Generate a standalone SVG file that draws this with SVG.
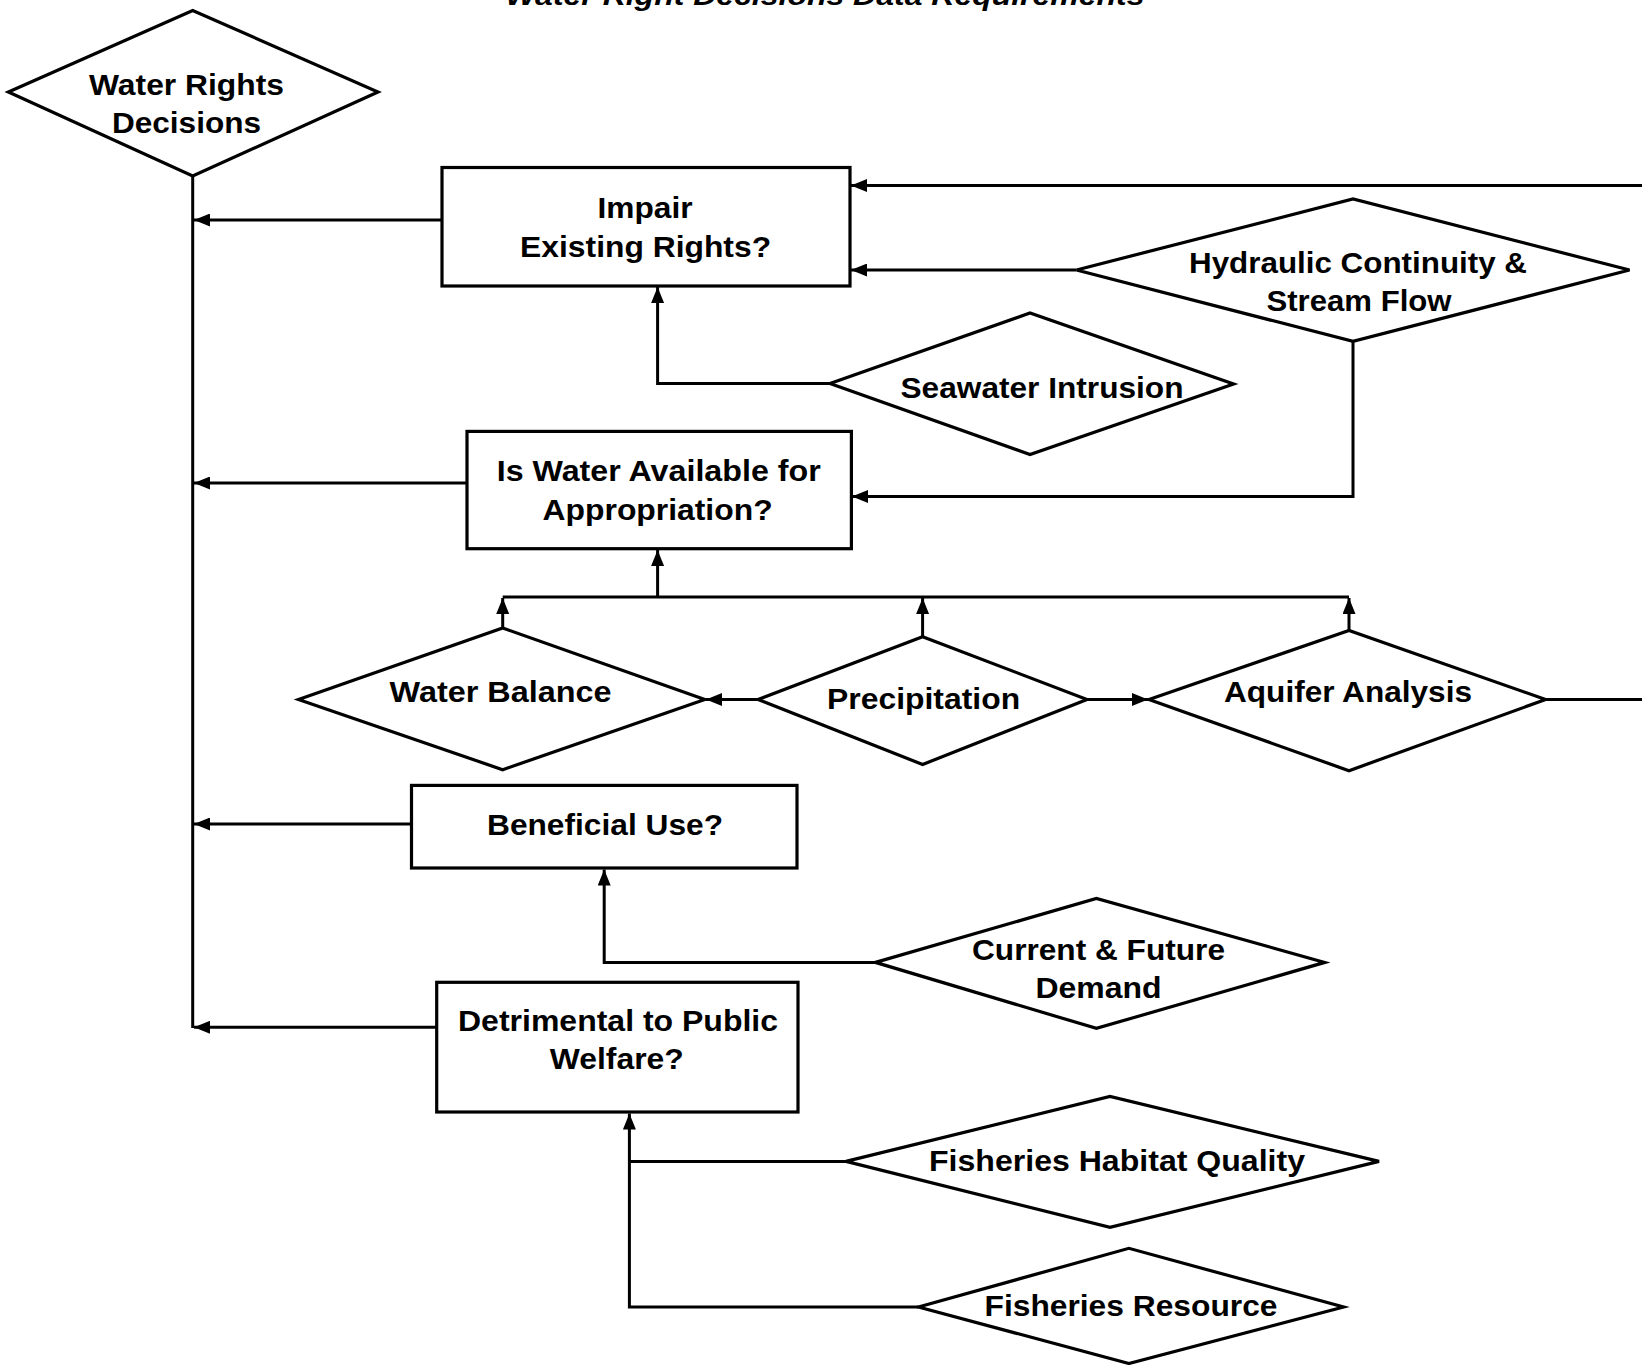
<svg xmlns="http://www.w3.org/2000/svg" width="1642" height="1365" viewBox="0 0 1642 1365">
  <defs>
    <marker id="arrow" markerUnits="userSpaceOnUse" markerWidth="17" markerHeight="13" refX="16" refY="6.5" orient="auto">
      <path d="M0,0 L16,6.5 L0,13 z" fill="#000"/>
    </marker>
    <style>
      .shape { fill: #fff; stroke: #000; stroke-width: 3.2; stroke-linejoin: miter; }
      .link { fill: none; stroke: #000; stroke-width: 3; }
      .arr { marker-end: url(#arrow); }
      .label { font-family: "Liberation Sans", Arial, sans-serif; font-weight: bold; font-size: 29.5px; fill: #000; text-anchor: middle; }
      .title { font-family: "Liberation Sans", Arial, sans-serif; font-weight: bold; font-style: italic; font-size: 28px; fill: #000; text-anchor: middle; }
    </style>
  </defs>

  <rect width="1642" height="1365" fill="#fff"/>

  <text class="title" x="825" y="5" textLength="639" lengthAdjust="spacingAndGlyphs">Water Right Decisions Data Requirements</text>

  <!-- connectors -->
  <g id="connectors">
    <path class="link" d="M192.7,176 V1028"/>
    <path class="link arr" d="M442,220 H194"/>
    <path class="link arr" d="M1642,185.5 H851"/>
    <path class="link arr" d="M1076,270 H851"/>
    <path class="link arr" d="M830,383.5 H657.6 V287"/>
    <path class="link arr" d="M1353,341.5 V496.5 H852"/>
    <path class="link arr" d="M467,483 H194"/>
    <path class="link arr" d="M657.6,597 V550"/>
    <path class="link" d="M502.7,597 H1349"/>
    <path class="link arr" d="M502.7,628 V598"/>
    <path class="link arr" d="M922.6,636.7 V598"/>
    <path class="link arr" d="M1349,630.4 V598"/>
    <path class="link arr" d="M758,699.5 H706"/>
    <path class="link arr" d="M1087,699.5 H1148"/>
    <path class="link" d="M1545.6,699.5 H1642"/>
    <path class="link arr" d="M411.5,824 H194"/>
    <path class="link arr" d="M875.5,962.4 H604.2 V869.5"/>
    <path class="link arr" d="M436.7,1027.3 H194"/>
    <path class="link" d="M846,1161.4 H629.4"/>
    <path class="link arr" d="M918.4,1307 H629.4 V1113.5"/>
  </g>

  <!-- decision root -->
  <g id="water-rights-decisions">
    <polygon class="shape" points="8.4,92 192.7,10.5 378,92 192.7,176"/>
    <text class="label" x="186.5" y="94.5" textLength="195" lengthAdjust="spacingAndGlyphs">Water Rights</text>
    <text class="label" x="186.5" y="133" textLength="149" lengthAdjust="spacingAndGlyphs">Decisions</text>
  </g>

  <!-- questions -->
  <g id="impair-existing-rights">
    <rect class="shape" x="442" y="167.5" width="408" height="118.5"/>
    <text class="label" x="645" y="217.5" textLength="95" lengthAdjust="spacingAndGlyphs">Impair</text>
    <text class="label" x="645.6" y="256.5" textLength="251" lengthAdjust="spacingAndGlyphs">Existing Rights?</text>
  </g>

  <g id="water-available">
    <rect class="shape" x="467" y="431.4" width="384.4" height="117.3"/>
    <text class="label" x="658.7" y="481" textLength="324" lengthAdjust="spacingAndGlyphs">Is Water Available for</text>
    <text class="label" x="657.6" y="519.5" textLength="230" lengthAdjust="spacingAndGlyphs">Appropriation?</text>
  </g>

  <g id="beneficial-use">
    <rect class="shape" x="411.5" y="785.4" width="385.5" height="82.6"/>
    <text class="label" x="605" y="834.5" textLength="236" lengthAdjust="spacingAndGlyphs">Beneficial Use?</text>
  </g>

  <g id="public-welfare">
    <rect class="shape" x="436.7" y="982.3" width="361.3" height="129.7"/>
    <text class="label" x="618" y="1031" textLength="320" lengthAdjust="spacingAndGlyphs">Detrimental to Public</text>
    <text class="label" x="616.8" y="1069" textLength="134" lengthAdjust="spacingAndGlyphs">Welfare?</text>
  </g>

  <!-- data requirements -->
  <g id="hydraulic-continuity">
    <polygon class="shape" points="1076.5,270 1353,199 1629.5,270 1353,341.4"/>
    <text class="label" x="1358" y="272.5" textLength="338" lengthAdjust="spacingAndGlyphs">Hydraulic Continuity &amp;</text>
    <text class="label" x="1359" y="311" textLength="185" lengthAdjust="spacingAndGlyphs">Stream Flow</text>
  </g>

  <g id="seawater-intrusion">
    <polygon class="shape" points="830,383.5 1030,313 1233.6,384 1030,454.5"/>
    <text class="label" x="1042" y="398" textLength="283" lengthAdjust="spacingAndGlyphs">Seawater Intrusion</text>
  </g>

  <g id="water-balance">
    <polygon class="shape" points="298.5,699.5 502.7,628 704.8,699.5 502.7,769.7"/>
    <text class="label" x="500.6" y="701.5" textLength="222" lengthAdjust="spacingAndGlyphs">Water Balance</text>
  </g>

  <g id="precipitation">
    <polygon class="shape" points="758,699.5 922.6,636.7 1087,699.5 922.6,764.5"/>
    <text class="label" x="923.6" y="708.5" textLength="193" lengthAdjust="spacingAndGlyphs">Precipitation</text>
  </g>

  <g id="aquifer-analysis">
    <polygon class="shape" points="1149,699.5 1349,630.4 1545.6,699.5 1349,770.7"/>
    <text class="label" x="1348" y="702" textLength="248" lengthAdjust="spacingAndGlyphs">Aquifer Analysis</text>
  </g>

  <g id="current-future-demand">
    <polygon class="shape" points="875.5,962.4 1096.4,898.5 1324.7,962.4 1096.4,1028.4"/>
    <text class="label" x="1098.5" y="959.5" textLength="253" lengthAdjust="spacingAndGlyphs">Current &amp; Future</text>
    <text class="label" x="1098.5" y="997.5" textLength="126" lengthAdjust="spacingAndGlyphs">Demand</text>
  </g>

  <g id="fisheries-habitat-quality">
    <polygon class="shape" points="846,1161.4 1110,1096.4 1379,1161.4 1110,1227.3"/>
    <text class="label" x="1117" y="1170.5" textLength="376" lengthAdjust="spacingAndGlyphs">Fisheries Habitat Quality</text>
  </g>

  <g id="fisheries-resource">
    <polygon class="shape" points="918.4,1307 1128.9,1248.3 1343.6,1307 1128.9,1363.5"/>
    <text class="label" x="1131" y="1316" textLength="293" lengthAdjust="spacingAndGlyphs">Fisheries Resource</text>
  </g>
</svg>
